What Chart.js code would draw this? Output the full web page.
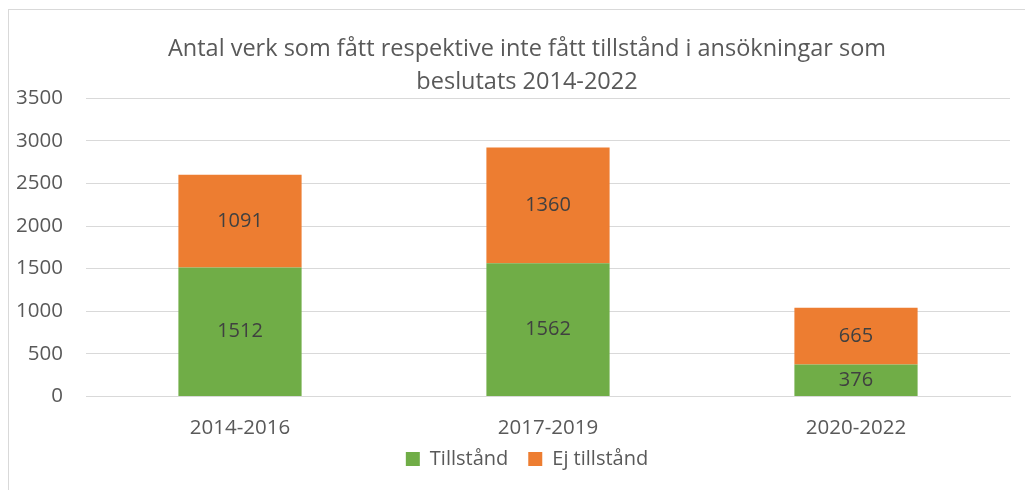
<!DOCTYPE html>
<html>
<head>
<meta charset="utf-8">
<script src="https://cdn.jsdelivr.net/npm/chart.js@4"></script>
<style>
  html, body { margin: 0; padding: 0; background: #fff; }
  #wrap { position: relative; width: 1025px; height: 490px; overflow: hidden; }
  #frame { position: absolute; left: 8px; top: 9px; width: 1030px; height: 500px; border: 1px solid #d9d9d9; box-sizing: border-box; }
  canvas { position: absolute; left: 0; top: 0; }
</style>
</head>
<body>
<div id="wrap">
  <div id="frame"></div>
  <canvas id="chart" width="1025" height="490"></canvas>
</div>
<script>
const categories = ['2014-2016', '2017-2019', '2020-2022'];
const tillstand = [1512, 1562, 376];
const ejTillstand = [1091, 1360, 665];
const yTicks = [0, 500, 1000, 1500, 2000, 2500, 3000, 3500];
const titleLines = ['Antal verk som fått respektive inte fått tillstånd i ansökningar som', 'beslutats 2014-2022'];

// the x labels sit closer to the legend than chart.js would allow
const xOverlap = 22;

// draws the value in the middle of each bar segment
const barLabels = {
    id: 'barLabels',
    afterDatasetsDraw(chart) {
        const ctx = chart.ctx;
        ctx.save();
        ctx.font = '20px "Open Sans"';
        ctx.fillStyle = '#404040';
        ctx.textAlign = 'center';
        ctx.textBaseline = 'middle';
        chart.data.datasets.forEach((ds, i) => {
            chart.getDatasetMeta(i).data.forEach((bar, j) => {
                const mid = (bar.y + bar.base) / 2;
                ctx.fillText(ds.data[j], bar.x, mid);
            });
        });
        ctx.restore();
    }
};

// widen the label clip areas again after layout
const layoutTweaks = {
    id: 'layoutTweaks',
    afterLayout(chart) {
        chart.scales.y.left = 0;
        chart.scales.x.bottom += xOverlap;
    }
};

const ctx = document.getElementById('chart').getContext('2d');
new Chart(ctx, {
    type: 'bar',
    data: {
        labels: categories,
        datasets: [{
            label: 'Tillstånd',
            data: tillstand,
            backgroundColor: '#70AD47'
        }, {
            label: 'Ej tillstånd',
            data: ejTillstand,
            backgroundColor: '#ED7D31'
        }]
    },
    options: {
        responsive: false,
        animation: false,
        layout: { padding: { left: 44, right: 15, top: 22, bottom: 11 } },
        datasets: {
            bar: { barPercentage: 0.4, categoryPercentage: 1 }
        },
        scales: {
            x: {
                stacked: true,
                afterFit: (s) => { s.height -= xOverlap; },
                grid: { display: false },
                border: { color: '#d9d9d9' },
                ticks: { color: '#595959', font: { family: 'Open Sans', size: 20.5 }, padding: 11 }
            },
            y: {
                stacked: true,
                min: 0,
                max: 3500,
                afterBuildTicks: (s) => { s.ticks = yTicks.map(v => ({ value: v })); },
                afterFit: (s) => { s.width = 42; },
                grid: { color: '#d9d9d9', drawTicks: false },
                border: { display: false },
                ticks: {
                    color: '#595959',
                    font: { family: 'Open Sans', size: 20.5 },
                    padding: 23,
                    callback: (v) => String(v)
                }
            }
        },
        plugins: {
            title: {
                display: true,
                text: titleLines,
                color: '#595959',
                font: { family: 'Open Sans', size: 23.5, weight: 'normal', lineHeight: 1.4 },
                padding: { top: 10.5, bottom: 0 }
            },
            legend: {
                position: 'bottom',
                labels: {
                    color: '#595959',
                    font: { family: 'Open Sans', size: 20 },
                    boxWidth: 14,
                    boxHeight: 14,
                    padding: 20
                }
            },
            tooltip: { enabled: false }
        }
    },
    plugins: [barLabels, layoutTweaks]
});
</script>
</body>
</html>
